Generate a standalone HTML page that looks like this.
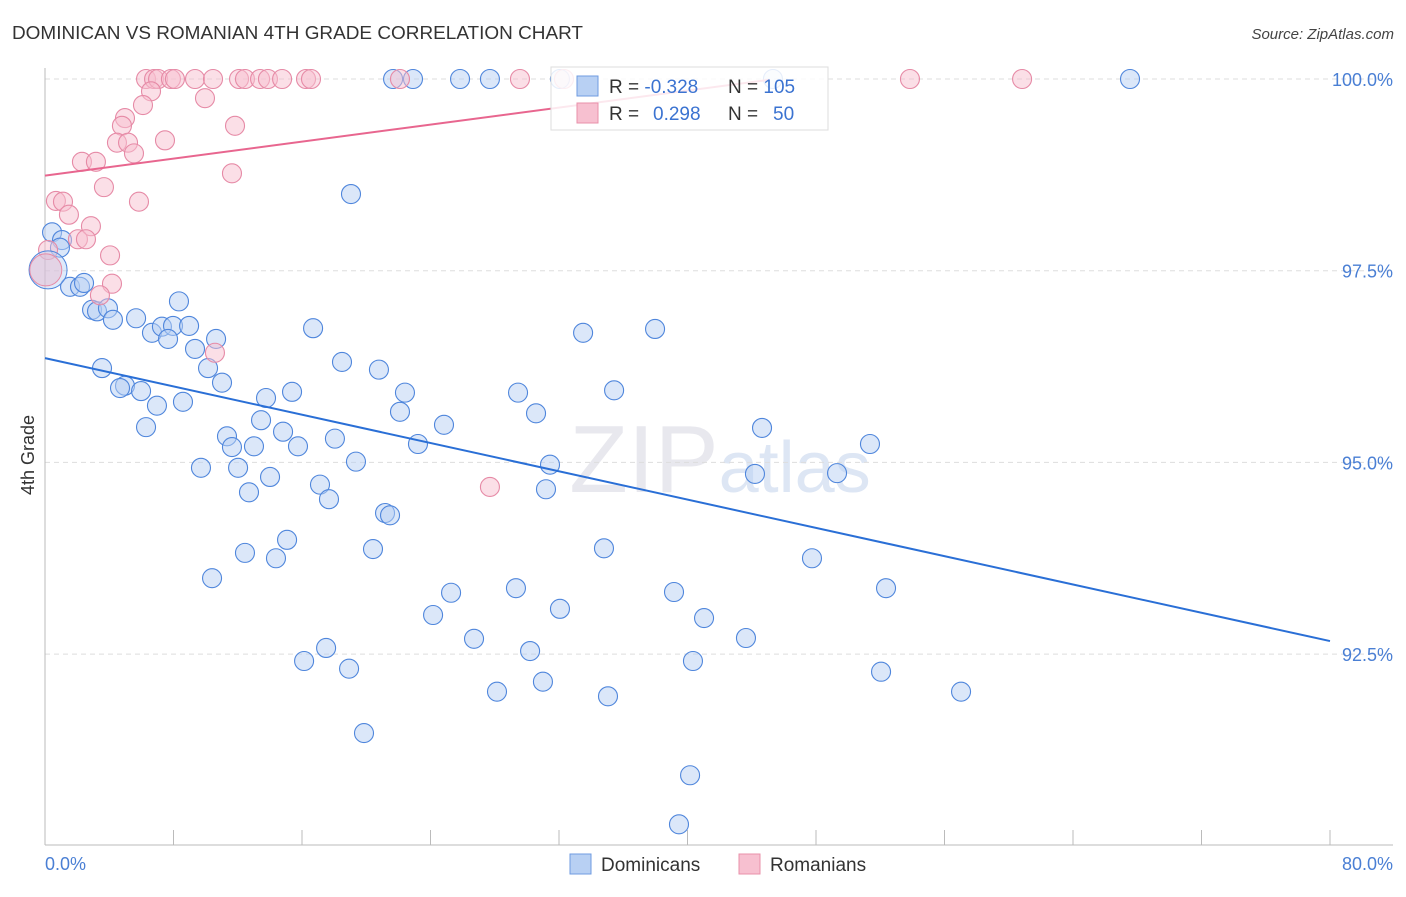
<!DOCTYPE html>
<html><head><meta charset="utf-8"><style>
body{margin:0;background:#fff;font-family:"Liberation Sans",sans-serif}
svg text{font-family:"Liberation Sans",sans-serif}
</style></head><body>
<svg id="chart" width="1406" height="892" xmlns="http://www.w3.org/2000/svg">
<text x="12" y="39" font-size="18" fill="#333" textLength="571" lengthAdjust="spacingAndGlyphs">DOMINICAN VS ROMANIAN 4TH GRADE CORRELATION CHART</text>
<text x="1394" y="39" font-size="15" font-style="italic" fill="#444" text-anchor="end">Source: ZipAtlas.com</text>
<text x="720" y="492" font-size="96" fill="#e8e8ee" text-anchor="middle" font-family="Liberation Serif">ZIP<tspan fill="#dde6f4" font-family="Liberation Sans" font-size="72">atlas</tspan></text>
<g id="grid"></g><g id="axes"></g><g id="pts"></g><g id="lines"></g>
<text transform="translate(34,455) rotate(-90)" font-size="18" fill="#333" text-anchor="middle">4th Grade</text>
<text x="45" y="870" font-size="18" fill="#4a7fd4">0.0%</text>
<text x="1393" y="870" font-size="18" fill="#4a7fd4" text-anchor="end">80.0%</text>
<g>
<rect x="551" y="67" width="277" height="63" fill="#fff" fill-opacity="0.85" stroke="#ddd"/>
<rect x="577" y="76" width="21" height="20" fill="#b8d0f3" stroke="#6f9be0"/>
<rect x="577" y="103" width="21" height="20" fill="#f7c0d0" stroke="#e890aa"/>
<text x="609" y="93" font-size="19" fill="#333">R = <tspan fill="#3b73d1">-0.328</tspan></text>
<text x="728" y="93" font-size="19" fill="#333">N = <tspan fill="#3b73d1">105</tspan></text>
<text x="609" y="120" font-size="19" fill="#333">R = <tspan fill="#3b73d1" x="653">0.298</tspan></text>
<text x="728" y="120" font-size="19" fill="#333">N = <tspan fill="#3b73d1" x="773">50</tspan></text>
</g>
<g>
<rect x="570" y="854" width="21" height="20" fill="#b8d0f3" stroke="#6f9be0"/>
<text x="601" y="871" font-size="19" fill="#333">Dominicans</text>
<rect x="739" y="854" width="21" height="20" fill="#f7c0d0" stroke="#e890aa"/>
<text x="770" y="871" font-size="19" fill="#333">Romanians</text>
</g>
</svg>
<script>
const yTicks=[100,97.5,95,92.5];
const yTickLabels=["100.0%","97.5%","95.0%","92.5%"];
const xTicks=[0,8,16,24,32,40,48,56,64,72,80];
const blueX=[67.55,21.67,22.91,25.84,27.70,32.06,45.32,19.05,0.44,1.06,0.93,1.56,2.18,2.43,2.93,3.24,3.92,4.23,5.67,8.34,6.66,7.28,7.97,7.66,8.97,10.65,16.69,9.34,33.50,37.98,3.55,18.49,20.79,10.15,11.02,4.98,4.67,5.98,8.59,6.97,13.76,15.38,22.41,29.45,35.43,22.10,30.57,6.29,13.45,24.84,11.33,14.82,18.05,44.64,11.64,13.01,15.75,23.22,51.36,19.36,31.44,9.71,12.02,14.01,44.20,49.31,17.12,12.70,31.19,17.68,21.17,21.48,15.07,20.42,34.80,12.45,14.38,47.75,10.40,29.32,25.28,39.16,52.36,32.06,24.16,41.03,26.71,43.64,17.50,30.20,16.13,40.34,18.93,52.05,31.00,28.14,35.05,57.03,19.86,40.16,39.47];
const blueY=[100,100,100,100,100,100,100,98.50,98.0,97.90,97.80,97.29,97.29,97.34,96.99,96.97,97.01,96.86,96.88,97.10,96.69,96.77,96.78,96.61,96.78,96.61,96.75,96.48,96.69,96.74,96.23,96.31,96.21,96.23,96.04,96.00,95.97,95.93,95.79,95.74,95.84,95.92,95.91,95.91,95.94,95.66,95.64,95.46,95.55,95.49,95.34,95.40,95.31,95.45,95.20,95.21,95.21,95.24,95.24,95.01,94.97,94.93,94.93,94.81,94.85,94.86,94.71,94.61,94.65,94.52,94.34,94.31,93.99,93.87,93.88,93.82,93.75,93.75,93.49,93.36,93.30,93.31,93.36,93.09,93.01,92.97,92.70,92.71,92.58,92.54,92.41,92.41,92.31,92.27,92.14,92.01,91.95,92.01,91.47,90.92,90.28];
const pinkX=[6.29,6.79,7.04,7.84,8.09,9.34,10.46,12.08,12.45,13.39,13.88,14.76,16.25,16.56,22.10,29.57,32.31,53.85,60.83,6.60,9.96,6.10,4.98,4.79,7.47,11.83,4.48,5.17,5.54,2.30,3.17,11.64,3.67,5.85,0.68,1.12,1.49,2.86,2.05,2.55,4.05,0.19,4.17,3.42,10.58,27.70];
const pinkY=[100,100,100,100,100,100,100,100,100,100,100,100,100,100,100,100,100,100,100,99.84,99.75,99.66,99.49,99.39,99.20,99.39,99.17,99.17,99.03,98.92,98.92,98.77,98.59,98.40,98.41,98.40,98.23,98.08,97.91,97.91,97.70,97.77,97.33,97.18,96.43,94.68];
const bigX=[0.19,0.05];const bigY=[97.51,97.51];
const blueTrend=[96.36,92.67];
const pinkTrend=[98.74,99.99,45.1];
const X=v=>45+v/80*1285, Y=v=>79+(100-v)/2.5*191.7;
const NS="http://www.w3.org/2000/svg";
function mk(p,t,a){const e=document.createElementNS(NS,t);for(const k in a)e.setAttribute(k,a[k]);document.getElementById(p).appendChild(e);return e;}
yTicks.forEach((t,i)=>{
 const g=mk('grid','line',{x1:45,x2:1393,y1:Y(t),y2:Y(t),stroke:'#ddd','stroke-dasharray':'5,4'});
 
 
 const l=mk('grid','text',{x:1393,y:Y(t)+7,'font-size':18,fill:'#4a7fd4','text-anchor':'end'});l.textContent=yTickLabels[i];
 
 
});
const ax=mk('axes','line',{x1:45,x2:45,y1:68,y2:845,stroke:'#bbb'});


const bx=mk('axes','line',{x1:45,x2:1393,y1:845,y2:845,stroke:'#bbb'});


xTicks.forEach(t=>{const l=mk('axes','line',{x1:X(t),x2:X(t),y1:830,y2:845,stroke:'#bbb'});
 
 });
blueX.forEach((x,i)=>{const c=mk('pts','circle',{cx:X(x),cy:Y(blueY[i]),r:9.5,fill:'#b8d0f3','fill-opacity':0.5,stroke:'#4f86dc','stroke-width':1.1});
 
 });
pinkX.forEach((x,i)=>{const c=mk('pts','circle',{cx:X(x),cy:Y(pinkY[i]),r:9.5,fill:'#f7c0d0','fill-opacity':0.5,stroke:'#e68aa6','stroke-width':1.1});
 
 });
const b1=mk('pts','circle',{cx:X(bigX[0]),cy:Y(bigY[0]),r:19,fill:'#b8d0f3','fill-opacity':0.45,stroke:'#4f86dc'});


const b2=mk('pts','circle',{cx:X(bigX[1]),cy:Y(bigY[1]),r:16,fill:'#e9b8cc','fill-opacity':0.45,stroke:'#e68aa6'});


const bl=mk('lines','line',{x1:X(0),y1:Y(blueTrend[0]),x2:X(80),y2:Y(blueTrend[1]),stroke:'#2a6fd6','stroke-width':2});


const pl=mk('lines','line',{x1:X(0),y1:Y(pinkTrend[0]),x2:X(pinkTrend[2]),y2:Y(pinkTrend[1]),stroke:'#e8668f','stroke-width':2});


</script>
</body></html>
